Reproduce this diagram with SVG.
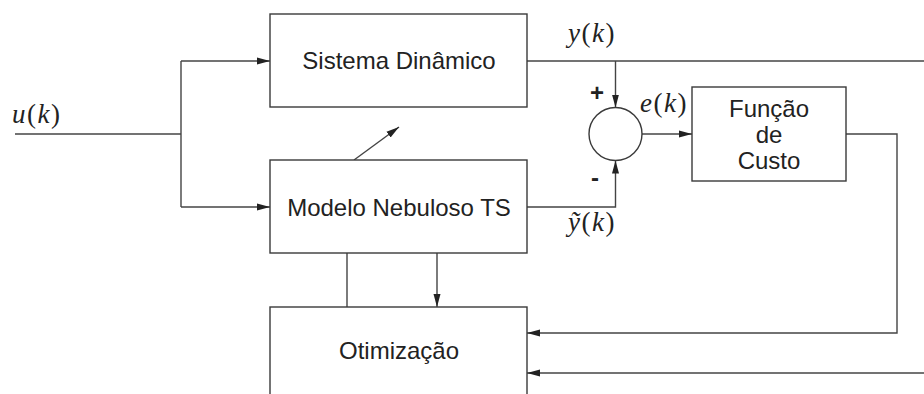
<svg xmlns="http://www.w3.org/2000/svg" width="924" height="394" viewBox="0 0 924 394">
  <style>
    .box { fill: #ffffff; stroke: #3a3a3a; stroke-width: 1.4; }
    .wire { fill: none; stroke: #444444; stroke-width: 1.4; }
    .lbl { font-family: "Liberation Sans", Arial, sans-serif; font-size: 24px; fill: #222222; text-anchor: middle; }
    .math { font-family: "Liberation Serif", "Times New Roman", serif; font-size: 27px; fill: #222222; letter-spacing: 1.5px; }
    .math .v { font-style: italic; }
    .sign { font-family: "Liberation Sans", Arial, sans-serif; font-size: 24px; font-weight: bold; fill: #222222; text-anchor: middle; }
  </style>
  <defs>
    <marker id="arrow" markerUnits="userSpaceOnUse" markerWidth="14" markerHeight="10" viewBox="0 0 14 10" refX="13" refY="5" orient="auto">
      <path d="M0,1.5 L13,5 L0,8.5 Z" fill="#222222"/>
    </marker>
  </defs>

  <g id="connectors">
    <!-- input split -->
    <path class="wire" d="M15,134 H181"/>
    <path class="wire" d="M181,61 V207"/>
    <path class="wire" d="M181,61 H270" marker-end="url(#arrow)"/>
    <path class="wire" d="M181,207 H270" marker-end="url(#arrow)"/>
    <!-- plant output y(k) -->
    <path class="wire" d="M527,61 H924"/>
    <path class="wire" d="M615.5,61 V107.5" marker-end="url(#arrow)"/>
    <!-- model output -->
    <path class="wire" d="M527,207 H615.5 V160.5" marker-end="url(#arrow)"/>
    <!-- error to cost function -->
    <path class="wire" d="M642,134 H692" marker-end="url(#arrow)"/>
    <!-- cost feedback to optimisation -->
    <path class="wire" d="M846,134 H897 V333 H527" marker-end="url(#arrow)"/>
    <path class="wire" d="M924,373 H527" marker-end="url(#arrow)"/>
    <!-- model to optimisation -->
    <path class="wire" d="M347,253 V307"/>
    <path class="wire" d="M437,253 V307" marker-end="url(#arrow)"/>
    <!-- parameter adjustment -->
    <path class="wire" d="M354,160 L399,127" marker-end="url(#arrow)"/>
  </g>

  <g id="sistema">
    <rect class="box" x="270" y="14" width="257" height="93"/>
    <text class="lbl" x="399" y="69">Sistema Dinâmico</text>
  </g>

  <g id="modelo">
    <rect class="box" x="270" y="160" width="257" height="93"/>
    <text class="lbl" x="399" y="216">Modelo Nebuloso TS</text>
  </g>

  <g id="otimizacao">
    <rect class="box" x="270" y="307" width="257" height="100"/>
    <text class="lbl" x="399" y="359">Otimização</text>
  </g>

  <g id="somador">
    <circle class="box" cx="615.5" cy="134" r="26.5"/>
    <text class="sign" x="597" y="101">+</text>
    <text class="sign" x="595" y="186">-</text>
  </g>

  <g id="custo">
    <rect class="box" x="692" y="87" width="154" height="94"/>
    <text class="lbl" x="769" y="117">Função</text>
    <text class="lbl" x="769" y="143">de</text>
    <text class="lbl" x="769" y="169">Custo</text>
  </g>

  <g id="labels">
    <text class="math" x="12" y="123"><tspan class="v">u</tspan>(<tspan class="v">k</tspan>)</text>
    <text class="math" x="568" y="42"><tspan class="v">y</tspan>(<tspan class="v">k</tspan>)</text>
    <text class="math" x="640" y="112"><tspan class="v">e</tspan>(<tspan class="v">k</tspan>)</text>
    <text class="math" x="568" y="231"><tspan class="v">ỹ</tspan>(<tspan class="v">k</tspan>)</text>
  </g>
</svg>
